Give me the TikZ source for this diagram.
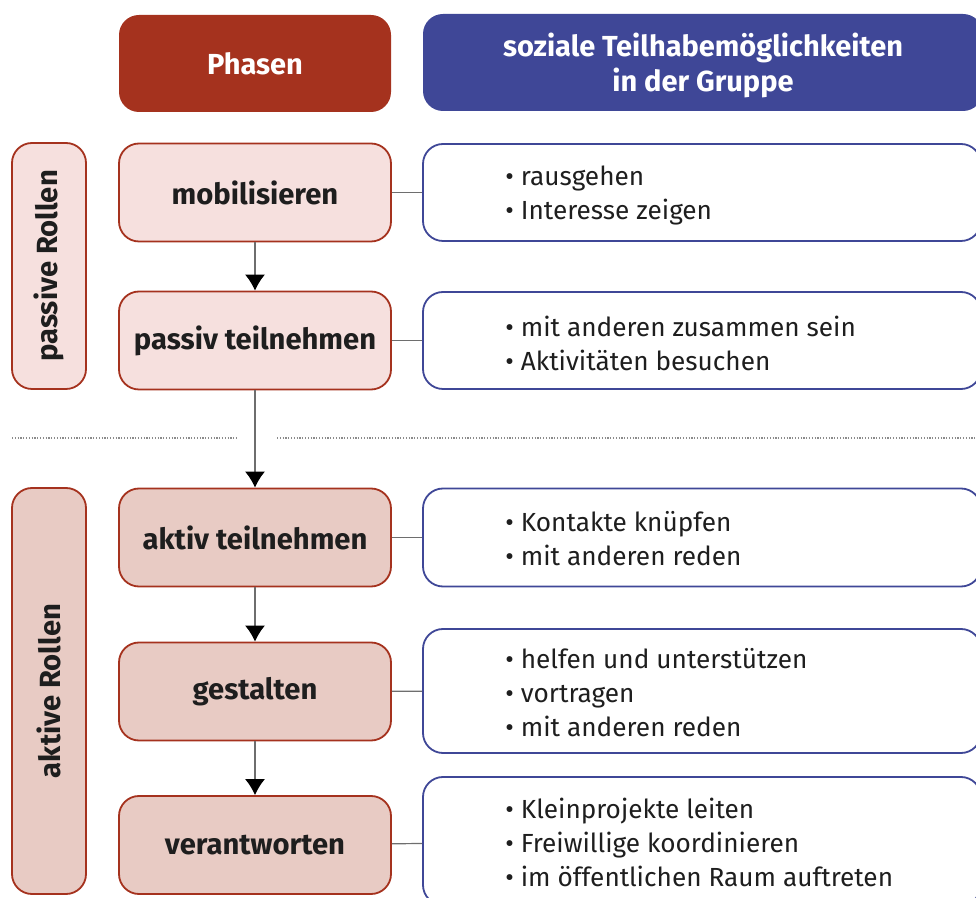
\documentclass[tikz,border=0pt]{standalone}
\usepackage{fontspec}
\setmainfont{Fira Sans}
\usetikzlibrary{arrows.meta}
\definecolor{phasered}{HTML}{A5321E}
\definecolor{groupblue}{HTML}{3F4797}
\definecolor{passivefill}{HTML}{F6E0DE}
\definecolor{activefill}{HTML}{E8CBC4}
\definecolor{textdark}{HTML}{1E1E1E}
\definecolor{linegray}{HTML}{6E6E6E}

\begin{document}
\begin{tikzpicture}[x=0.5pt,y=-0.5pt,
    head/.style={rounded corners=10pt, text=white, align=center, minimum height=48.5pt,
        font=\bfseries\fontsize{14.5}{17.5}\selectfont},
    phase/.style={rounded corners=10pt, draw=phasered, line width=0.9pt, minimum width=136pt,
        minimum height=49pt, text=textdark, font=\bfseries\fontsize{14.6}{17}\selectfont},
    role/.style={rounded corners=10pt, draw=phasered, line width=0.9pt, rotate=90,
        minimum height=37pt, text=textdark, font=\bfseries\fontsize{14.6}{17}\selectfont},
    offer/.style={rounded corners=10pt, draw=groupblue, line width=0.9pt, fill=white,
        minimum width=279pt},
    items/.style={anchor=west, align=left, inner sep=0pt, text=textdark,
        font=\fontsize{13.1}{17}\selectfont},
    link/.style={draw=linegray, line width=0.6pt},
    flow/.style={link, -{Latex[length=8pt,width=10pt,color=black]}}]
        \useasboundingbox (0,0) rectangle (976,898);
        \clip (0,0) rectangle (976,898);
        % Headers
        \node[head, fill=phasered, minimum width=136pt] (phasen) at (255,63.5) {Phasen};
        \node[head, fill=groupblue, minimum width=280pt] (gruppe) at (703,62.5) {};
        \node[text=white, align=center, font=\bfseries\fontsize{14.5}{17.5}\selectfont] (gtext) at (703,65.5)
            {soziale Teilhabemöglichkeiten\\in der Gruppe};
        % Roles
        \node[role, fill=passivefill, minimum width=123pt] (passiv) at (49,266) {passive Rollen};
        \node[role, fill=activefill, minimum width=203pt] (aktiv) at (49,691) {aktive Rollen};
        % Phases
        \node[phase, fill=passivefill] (mob) at (255,192.5) {mobilisieren};
        \node[phase, fill=passivefill] (pas) at (255,340.5) {passiv teilnehmen};
        \node[phase, fill=activefill] (akt) at (255,537.5) {aktiv teilnehmen};
        \node[phase, fill=activefill] (ges) at (255,691.5) {gestalten};
        \node[phase, fill=activefill] (ver) at (255,845) {verantworten};
        % Possibilities
        \node[offer, minimum height=48.5pt] (o1) at (702,192.5) {};
        \node[offer, minimum height=48.5pt] (o2) at (702,340.5) {};
        \node[offer, minimum height=49pt] (o3) at (702,537.5) {};
        \node[offer, minimum height=62pt] (o4) at (702,691) {};
        \node[offer, minimum height=64pt] (o5) at (702,841) {};
        \node[items] (t1) at (505,195) {• rausgehen\\• Interesse zeigen};
        \node[items] (t2) at (505,343) {• mit anderen zusammen sein\\• Aktivitäten besuchen};
        \node[items] (t3) at (505,539) {• Kontakte knüpfen\\• mit anderen reden};
        \node[items] (t4) at (505,693) {• helfen und unterstützen\\• vortragen\\• mit anderen reden};
        \node[items] (t5) at (505,842) {• Kleinprojekte leiten\\• Freiwillige koordinieren\\• im öffentlichen Raum auftreten};
        % Separator
        \draw[linegray!80, line width=0.6pt, dash pattern=on 0.6pt off 0.8pt] (12,438) -- (237,438);
        \draw[linegray!80, line width=0.6pt, dash pattern=on 0.6pt off 0.8pt] (277,438) -- (976,438);
        % Edges
        \draw[flow] (mob) -- (pas);
        \draw[flow] (pas) -- (akt);
        \draw[flow] (akt) -- (ges);
        \draw[flow] (ges) -- (ver);
        \draw[link] (mob) -- (o1);
        \draw[link] (pas) -- (o2);
        \draw[link] (akt) -- (o3);
        \draw[link] (ges) -- (o4);
        \draw[link] (ver) -- (o5);
    \end{tikzpicture}
\end{document}
